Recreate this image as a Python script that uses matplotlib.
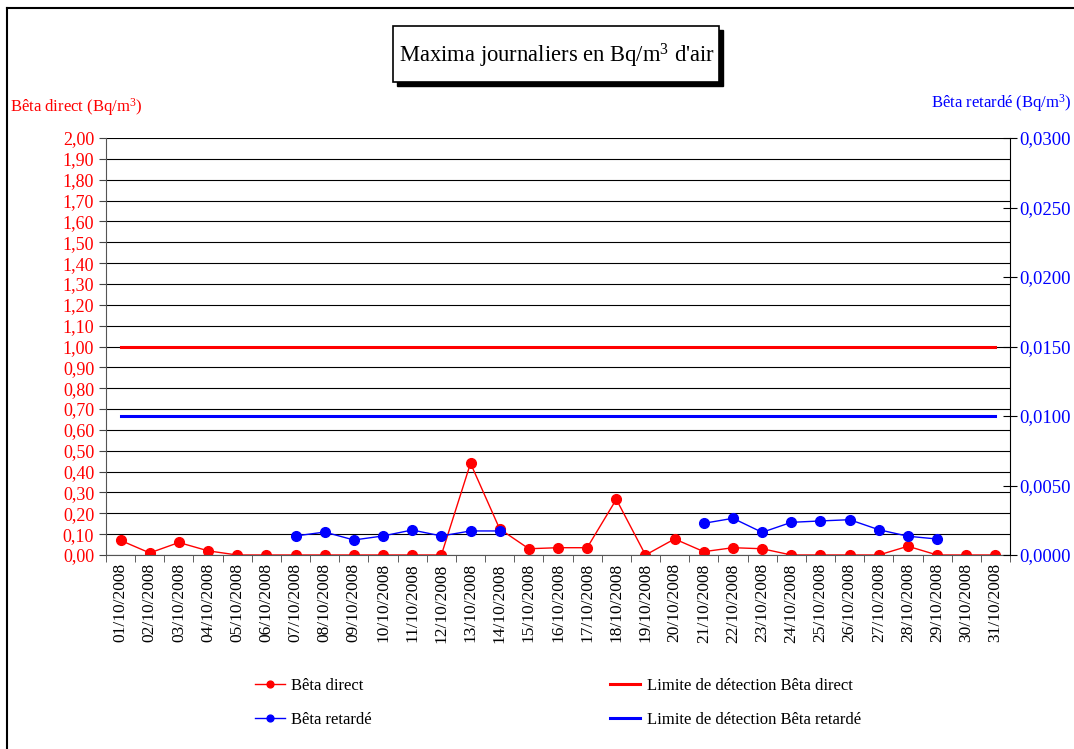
import numpy as np
import matplotlib
matplotlib.use('Agg')
import matplotlib.pyplot as plt
from matplotlib.patches import Rectangle
from matplotlib.lines import Line2D
from matplotlib.ticker import FuncFormatter, MultipleLocator

plt.rcParams['font.family'] = ['Liberation Serif', 'DejaVu Serif']
plt.rcParams['mathtext.fontset'] = 'custom'
plt.rcParams['mathtext.rm'] = 'Liberation Serif'
plt.rcParams['mathtext.it'] = 'Liberation Serif'

# données
dates = ['%02d/10/2008' % d for d in range(1, 32)]
beta_direct = [0.07, 0.01, 0.06, 0.02, 0.0, 0.0, 0.0, 0.0, 0.0, 0.0,
               0.0, 0.0, 0.44, 0.125, 0.03, 0.035, 0.035, 0.267, 0.0, 0.077,
               0.016, 0.035, 0.03, 0.0, 0.0, 0.0, 0.0, 0.042, 0.0, 0.0, 0.0]
nan = np.nan
beta_retarde = [nan, nan, nan, nan, nan, nan, 0.00137, 0.00165, 0.00108, 0.00137,
                0.0018, 0.00137, 0.00173, 0.00173, nan, nan, nan, nan, nan, nan,
                0.00228, 0.00264, 0.00163, 0.00235, 0.00245, 0.00254, 0.00182, 0.00135, 0.00115, nan, nan]
limite_direct = [1.00] * 31
limite_retarde = [0.010] * 31

x = np.arange(len(dates))

fig = plt.figure(figsize=(10.74, 7.49), dpi=100)
W, H = 1074, 749
ax = fig.add_axes([106 / W, 1 - 555 / H, (1010 - 106) / W, (555 - 138) / H])
ax2 = ax.twinx()

l1, = ax.plot(x, beta_direct, color='red', lw=1, marker='o', ms=7, label='Bêta direct')
l3, = ax.plot(x, limite_direct, color='red', lw=2.2, label='Limite de détection Bêta direct')
l2, = ax2.plot(x, beta_retarde, color='blue', lw=1, marker='o', ms=7, label='Bêta retardé')
l4, = ax2.plot(x, limite_retarde, color='blue', lw=2.2, label='Limite de détection Bêta retardé')

ax.set_xlim(-0.5, 30.5)
ax.set_ylim(0, 2.0)
ax2.set_ylim(0, 0.03)

ax.yaxis.set_major_locator(MultipleLocator(0.1))
ax.yaxis.set_major_formatter(FuncFormatter(lambda v, p: ('%.2f' % v).replace('.', ',')))
ax2.yaxis.set_major_locator(MultipleLocator(0.005))
ax2.yaxis.set_major_formatter(FuncFormatter(lambda v, p: ('%.4f' % v).replace('.', ',')))
ax.grid(axis='y', color='black', lw=0.8)
ax.set_axisbelow(True)

ax.set_xticks(x)
ax.set_xticklabels(dates, rotation=90, fontsize=12.5)
ax.set_xticks(np.arange(-0.5, 31, 1), minor=True)
ax.tick_params(axis='x', which='major', length=0, pad=6)
ax.tick_params(axis='x', which='minor', length=5, direction='out', color='#444444')
ax.tick_params(axis='y', colors='red', labelsize=13, length=5, direction='out')
ax.tick_params(axis='y', color='#444444')
ax2.tick_params(axis='y', colors='blue', labelsize=13.5, length=10, direction='inout', pad=2)
ax2.tick_params(axis='y', color='black')

for a in (ax, ax2):
    a.spines['top'].set_visible(False)
ax.spines['right'].set_visible(False)
ax2.spines['left'].set_visible(False)
ax2.spines['bottom'].set_visible(False)
ax.spines['left'].set_color('#555555')
ax.spines['bottom'].set_color('#555555')
ax2.spines['right'].set_color('black')

fig.text(10 / W, 1 - 107 / H, 'Bêta direct (Bq/m$^3$)', color='red', fontsize=12, va='center', ha='left')
fig.text(1072 / W, 1 - 103 / H, 'Bêta retardé (Bq/m$^3$)', color='blue', fontsize=12, va='center', ha='right')

# cadre du titre avec ombre
fig.patches.append(Rectangle((397 / W, 1 - 86 / H), 326 / W, 56 / H, transform=fig.transFigure,
                             facecolor='black', edgecolor='black', zorder=1))
fig.patches.append(Rectangle((393 / W, 1 - 82 / H), 326 / W, 56 / H, transform=fig.transFigure,
                             facecolor='white', edgecolor='black', lw=1.2, zorder=2))
fig.text(557 / W, 1 - 56 / H, "Maxima journaliers en Bq/m$^3$ d'air", fontsize=16.3, ha='center', va='center', zorder=3)

# cadre extérieur
fig.lines.append(Line2D([7 / W, 7 / W], [0, 1 - 8 / H], transform=fig.transFigure, color='black', lw=1.5))
fig.lines.append(Line2D([7 / W, 1], [1 - 8 / H, 1 - 8 / H], transform=fig.transFigure, color='black', lw=1.5))

fig.legend(handles=[l1, l2, l3, l4], ncol=2, loc='center', bbox_to_anchor=(558 / W, 1 - 703 / H),
           frameon=False, fontsize=12, handlelength=1.8, handletextpad=0.4, columnspacing=14.3,
           labelspacing=1.05, markerscale=0.7)

fig.savefig('out.png', dpi=100)
